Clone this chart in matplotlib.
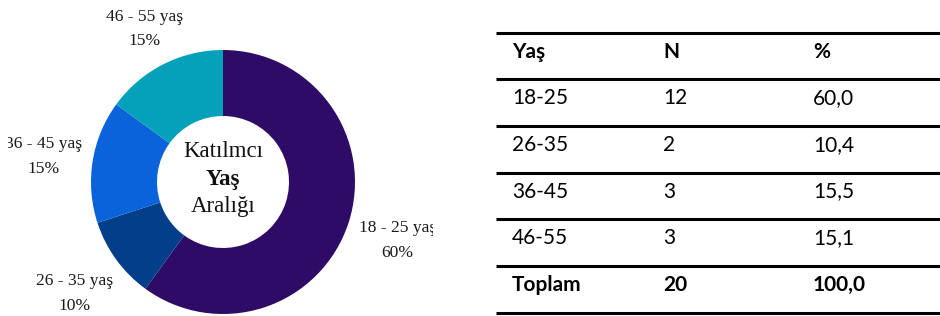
import matplotlib
matplotlib.use("Agg")
import matplotlib.pyplot as plt

# ---- data ----
groups = ["18 - 25 yaş", "26 - 35 yaş", "36 - 45 yaş", "46 - 55 yaş"]
counts = [12, 2, 3, 3]
pie_pct = ["60%", "10%", "15%", "15%"]
colors = ["#2D0B66", "#023E8A", "#0B63DB", "#05A0B9"]

table_header = ["Yaş", "N", "%"]
table_age = ["18-25", "26-35", "36-45", "46-55"]
table_n = ["12", "2", "3", "3"]
table_pct = ["60,0", "10,4", "15,5", "15,1"]
total_row = ["Toplam", "20", "100,0"]

W, H = 940, 316
fig = plt.figure(figsize=(W / 100, H / 100), dpi=100)
fig.patch.set_facecolor("white")

serif = "Liberation Serif"
sans = "Lato"

# ---- donut (pixel-like data coords) ----
x0, x1 = 8, 433
ax = fig.add_axes([x0 / W, 0, (x1 - x0) / W, 1])
cx, cy, R = 223, H - 182, 132
ax.pie(counts, colors=colors, startangle=90, counterclock=False,
       center=(cx, cy), radius=R, frame=True,
       wedgeprops=dict(width=R * 0.5, linewidth=0))
ax.set_xlim(x0, x1)
ax.set_ylim(0, H)
ax.set_aspect("auto")
ax.axis("off")

label_pos = [(397.5, 232, 257), (74.5, 285, 310), (43.5, 148, 173), (145, 21, 45)]
for g, p, (lx, ly1, ly2) in zip(groups, pie_pct, label_pos):
    ax.text(lx, H - ly1, g, ha="center", va="baseline", family=serif,
            fontsize=12.6, color="#1a1a1a", clip_on=True)
    ax.text(lx, H - ly2, p, ha="center", va="baseline", family=serif,
            fontsize=12.6, color="#1a1a1a", clip_on=True)

ax.text(cx, H - 157, "Katılmcı", ha="center", va="baseline", family=serif,
        fontsize=16.5, color="#111111")
ax.text(cx, H - 185, "Yaş", ha="center", va="baseline", family=serif,
        fontsize=16.5, fontweight="bold", color="#111111")
ax.text(cx, H - 212, "Aralığı", ha="center", va="baseline", family=serif,
        fontsize=16.5, color="#111111")

# ---- table ----
tx = fig.add_axes([0, 0, 1, 1])
tx.set_xlim(0, W)
tx.set_ylim(H, 0)
tx.axis("off")
tx.patch.set_alpha(0)

line_y = [33, 79, 126, 173, 219, 266, 313]
tx.hlines(line_y, 496, W, colors="black", linewidth=2.2)
col_x = [512, 663, 813]
rows = [table_header] + [list(r) for r in zip(table_age, table_n, table_pct)] + [total_row]
for i, row in enumerate(rows):
    yb = (line_y[i] + line_y[i + 1]) / 2 + 1.5
    bold = i == 0 or i == len(rows) - 1
    for x, s in zip(col_x, row):
        tx.text(x, yb, s, ha="left", va="baseline", family=sans, fontsize=15,
                fontweight="bold" if bold else "normal", color="black")

fig.savefig("out.png", dpi=100, facecolor="white")
